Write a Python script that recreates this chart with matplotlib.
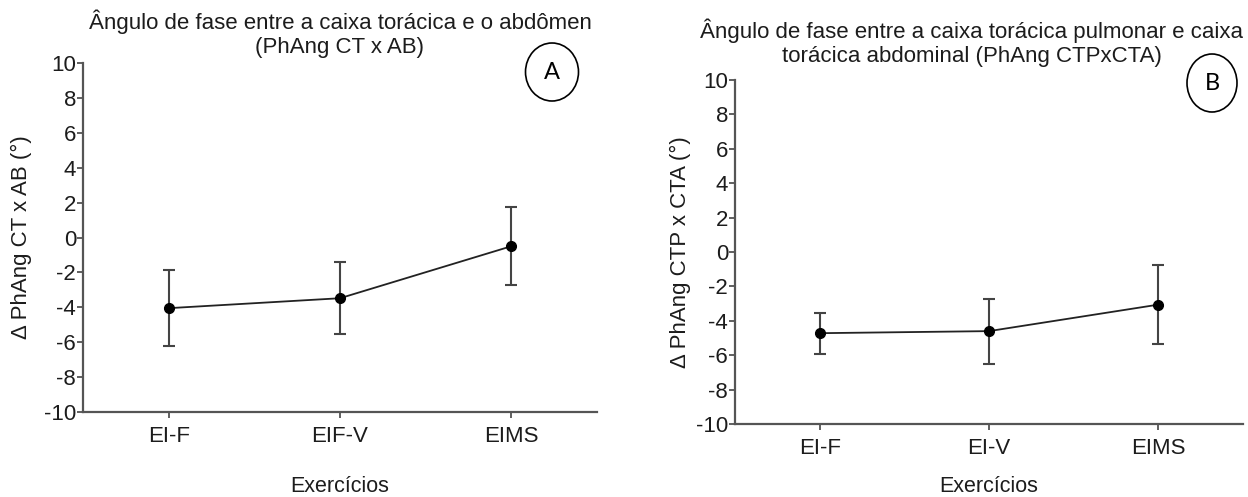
import matplotlib
matplotlib.use("Agg")
import matplotlib.pyplot as plt
from matplotlib.patches import Ellipse

# ------------------------------------------------- Data -------------------------------------------------

labels_a = ["EI-F", "EIF-V", "EIMS"]
mean_a = [-4.05, -3.48, -0.50]
upper_a = [-1.88, -1.42, 1.75]
lower_a = [-6.24, -5.51, -2.75]

labels_b = ["EI-F", "EI-V", "EIMS"]
mean_b = [-4.72, -4.60, -3.06]
upper_b = [-3.53, -2.75, -0.78]
lower_b = [-5.95, -6.52, -5.37]

yticks = list(range(-10, 11, 2))

title_a = "Ângulo de fase entre a caixa torácica e o abdômen\n(PhAng CT x AB)"
title_b = "Ângulo de fase entre a caixa torácica pulmonar e caixa\ntorácica abdominal (PhAng CTPxCTA)"
ylabel_a = "Δ PhAng CT x AB (°)"
ylabel_b = "Δ PhAng CTP x CTA (°)"
xlabel = "Exercícios"

# ------------------------------------------------- Styling -------------------------------------------------

plt.rcParams.update({
    "font.family": ["Liberation Sans", "DejaVu Sans"],
    "font.size": 15,
    "axes.unicode_minus": False,
    "text.color": "#1c1c1c",
    "axes.labelcolor": "#1c1c1c",
    "xtick.color": "#444444",
    "ytick.color": "#444444",
    "xtick.labelcolor": "#1c1c1c",
    "ytick.labelcolor": "#1c1c1c",
})

AX_COLOR = "#555555"
W, H = 1248, 497


def draw_panel(ax, labels, mean, upper, lower, ylabel, ylabel_x):

    x = list(range(len(labels)))
    err_lo = [m - lo for m, lo in zip(mean, lower)]
    err_hi = [hi - m for m, hi in zip(mean, upper)]

    ax.errorbar(
        x,
        mean,
        yerr=[err_lo, err_hi],
        fmt="o-",
        color="#222222",
        ecolor="#444444",
        elinewidth=1.5,
        capsize=4,
        capthick=1.5,
        linewidth=1.3,
        markersize=7,
        markerfacecolor="black",
        markeredgecolor="black",
        clip_on=False,
    )

    ax.set_xlim(-0.5, 2.5)
    ax.set_ylim(-10, 10)
    ax.set_yticks(yticks)
    ax.set_xticks(x)
    ax.set_xticklabels(labels)

    for side in ["top", "right"]:
        ax.spines[side].set_visible(False)
    for side in ["left", "bottom"]:
        ax.spines[side].set_color(AX_COLOR)
        ax.spines[side].set_linewidth(1.6)

    ax.tick_params(axis="y", length=4, width=1.2, pad=1, labelsize=16)
    ax.tick_params(axis="x", length=4, width=1.2, pad=6, labelsize=16)

    ax.set_ylabel(ylabel, fontsize=16, va="center")
    ax.yaxis.set_label_coords(ylabel_x, 0.5)


fig = plt.figure(figsize=(W / 100, H / 100), dpi=100)

ax_a = fig.add_axes([83 / W, 1 - 412 / H, 514 / W, 349 / H])
ax_b = fig.add_axes([735 / W, 1 - 424 / H, 508 / W, 344 / H])

draw_panel(ax_a, labels_a, mean_a, upper_a, lower_a, ylabel_a, -0.119)
draw_panel(ax_b, labels_b, mean_b, upper_b, lower_b, ylabel_b, -0.108)

fig.text(340 / W, 1 - 487 / H, xlabel, ha="center", va="center", fontsize=15.5)
fig.text(989 / W, 1 - 487 / H, xlabel, ha="center", va="center", fontsize=15.5)

fig.text(340 / W, 1 - 34 / H, title_a, ha="center", va="center",
         fontsize=16, linespacing=1.2)
fig.text(972 / W, 1 - 43 / H, title_b, ha="center", va="center",
         fontsize=16, linespacing=1.2)

# Panel letters
for cx, cy, w, h, letter in [(552, 72, 53, 58, "A"), (1212, 83, 50, 58, "B")]:
    fig.patches.append(Ellipse(
        (cx / W, 1 - cy / H),
        w / W,
        h / H,
        transform=fig.transFigure,
        facecolor="white",
        edgecolor="black",
        linewidth=1.2,
    ))
    fig.text(cx / W, 1 - cy / H, letter, ha="center", va="center",
             fontsize=17, family=["Lato", "DejaVu Sans"], color="black")

fig.savefig("out.png", dpi=100)
